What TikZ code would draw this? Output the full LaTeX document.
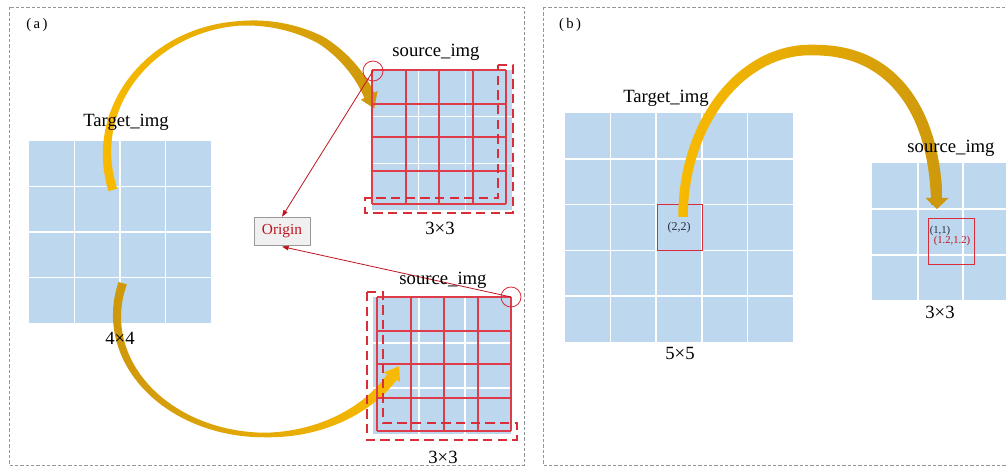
\documentclass[tikz,border=0pt]{standalone}
\usepackage{fontspec}
\setmainfont{Liberation Serif}
\usetikzlibrary{arrows.meta,calc}
\definecolor{cellblue}{RGB}{189,215,238}
\definecolor{goldA}{RGB}{248,186,0}
\definecolor{goldB}{RGB}{206,152,12}
\definecolor{redline}{RGB}{218,45,58}
\definecolor{gridred}{RGB}{222,60,72}
\definecolor{darkred}{RGB}{190,20,30}
\definecolor{panelgray}{RGB}{150,150,150}
\definecolor{inktext}{RGB}{40,45,60}
\begin{document}
\begin{tikzpicture}[x=0.75pt,y=-0.75pt,
  declare function={
    wA(\t)=4.5+0.045*max(0,265-\t)+0.11*max(0,\t-265);
    sA(\t)=1-0.00173*max(0,\t-300);
    wB(\t)=4.5+0.04*max(0,\t-90)+0.11*max(0,90-\t);
    wC(\t)=9.5+0.012*(\t-180);
  },
  panel/.style={draw=panelgray, line width=0.6pt, dash pattern=on 2.5pt off 1.5pt},
  lbl/.style={font=\fontsize{14}{16}\selectfont, inner sep=0pt},
  small/.style={font=\fontsize{8}{9}\selectfont, inner sep=0pt},
  gridw/.style={white, line width=1.1pt},
  redgrid/.style={draw=gridred, line width=0.9pt},
  redL/.style={draw=redline, line width=1.6pt, dash pattern=on 7pt off 4pt},
  redring/.style={circle, draw=redline, line width=0.6pt, minimum size=15pt, inner sep=0pt},
  redsq/.style={draw=redline, line width=0.6pt},
  redarrow/.style={draw=darkred, line width=0.6pt, -{Triangle[length=5pt,width=3.5pt]}},
  bandLR/.style={left color=goldA, right color=goldB},
  bandRL/.style={left color=goldB, right color=goldA},
]
\useasboundingbox (0,0) rectangle (1006,470);

% panels
\draw[panel] (9,7) rectangle (524,465);
\draw[panel] (543,7) rectangle (1012,465);

% ===== panel (a) =====
\fill[cellblue] (29,141) rectangle (211,323);
\foreach \i in {1,2,3} {
  \draw[gridw] ({29+\i*45.5},141) -- ({29+\i*45.5},323);
  \draw[gridw] (29,{141+\i*45.5}) -- (211,{141+\i*45.5});
}
\fill[cellblue] (372,70) rectangle (512,210);
\foreach \v in {418.7,465.3} \draw[gridw] (\v,70) -- (\v,210);
\foreach \v in {116.7,163.3} \draw[gridw] (372,\v) -- (512,\v);
\fill[cellblue] (373,297) rectangle (511,434);
\foreach \v in {419,465} \draw[gridw] (\v,297) -- (\v,434);
\foreach \v in {343,388} \draw[gridw] (373,\v) -- (511,\v);

% top gold arc
\shade[bandLR] plot[variable=\t, domain=163.5:332, samples=90]
   ({250+(143+0.5*wA(\t))*sA(\t)*cos(\t)}, {153+(130+0.5*wA(\t))*sA(\t)*sin(\t)})
 -- plot[variable=\t, domain=332:163.5, samples=90]
   ({250+(143-0.5*wA(\t))*sA(\t)*cos(\t)}, {153+(130-0.5*wA(\t))*sA(\t)*sin(\t)}) -- cycle;
\fill[goldB] ({250+(143+10)*sA(332)*cos(332)}, {153+(130+10)*sA(332)*sin(332)})
 -- ({250+(143-10)*sA(332)*cos(332)}, {153+(130-10)*sA(332)*sin(332)})
 -- ({250+143*sA(338.5)*cos(338.5)}, {153+130*sA(338.5)*sin(338.5)}) -- cycle;

% bottom gold arc
\shade[bandRL] plot[variable=\t, domain=196:31, samples=90]
   ({265+(148+0.5*wB(\t))*cos(\t)}, {316+(119+0.5*wB(\t))*sin(\t)})
 -- plot[variable=\t, domain=31:196, samples=90]
   ({265+(148-0.5*wB(\t))*cos(\t)}, {316+(119-0.5*wB(\t))*sin(\t)}) -- cycle;
\fill[goldA] ({265+(148+9.5)*cos(31)}, {316+(119+9.5)*sin(31)})
 -- ({265+(148-9.5)*cos(31)}, {316+(119-9.5)*sin(31)})
 -- ({265+148*cos(25)}, {316+119*sin(25)}) -- cycle;

% red grids (snapped to whole pixels)
\foreach \v in {372,406,439,473,506} \draw[redgrid] (\v,70) -- (\v,204);
\foreach \v in {70,104,137,171,204} \draw[redgrid] (372,\v) -- (506,\v);
\foreach \v in {377,411,444,478,511} \draw[redgrid] (\v,297) -- (\v,431);
\foreach \v in {297,331,364,398,431} \draw[redgrid] (377,\v) -- (511,\v);
\draw[redL] (498,65) -- (513,65) -- (513,213) -- (365,213) -- (365,198) -- (498,198) -- cycle;
\draw[redL] (367,292) -- (383,292) -- (383,423) -- (517,423) -- (517,440) -- (367,440) -- cycle;

\node[redring] (c1) at (373,71) {};
\node[redring] (c2) at (511,297) {};
\node[draw=gray!80, fill=gray!12, minimum width=42pt, minimum height=21pt, inner sep=0pt,
      text=darkred, font=\fontsize{11.5}{13}\selectfont] (origin) at (282,231) {Origin};
\draw[redarrow] (c1.center) -- (origin.north);
\draw[redarrow] (c2.center) -- ([yshift=-1pt]origin.south);

\node[font=\fontsize{11}{12}\selectfont, inner sep=0pt] (la) at (37,25) {(\,a\,)};
\node[lbl] (ta) at (126,122) {Target\_img};
\node[lbl] (ta2) at (120,338) {4×4};
\node[lbl] (sa) at (436,52) {source\_img};
\node[lbl] (sa2) at (440,228) {3×3};
\node[lbl] (sb) at (443,280) {source\_img};
\node[lbl] (sb2) at (443,457) {3×3};

% ===== panel (b) =====
\fill[cellblue] (565,113) rectangle (793,342);
\foreach \i in {1,...,4} {
  \draw[gridw] ({565+\i*45.6},113) -- ({565+\i*45.6},342);
  \draw[gridw] (565,{113+\i*45.8}) -- (793,{113+\i*45.8});
}
\draw[redsq] (657,204) rectangle (702,250);
\fill[cellblue] (872,163) rectangle (1009,300);
\foreach \v in {918,963} \draw[gridw] (\v,163) -- (\v,300);
\foreach \v in {209,255} \draw[gridw] (872,\v) -- (1009,\v);
\draw[redsq] (928,218) rectangle (974,264);

\shade[bandLR] plot[variable=\t, domain=180:270, samples=50]
   ({810+(127+0.5*wC(\t))*cos(\t)}, {217+(167+0.5*wC(\t))*sin(\t)})
 -- plot[variable=\t, domain=270:357.3, samples=60]
   ({810+(127+0.5*wC(\t))*pow(max(cos(\t),0.00001),0.85)}, {217-(167+0.5*wC(\t))*pow(max(-sin(\t),0.00001),0.85)})
 -- plot[variable=\t, domain=357.3:270, samples=60]
   ({810+(127-0.5*wC(\t))*pow(max(cos(\t),0.00001),0.85)}, {217-(167-0.5*wC(\t))*pow(max(-sin(\t),0.00001),0.85)})
 -- plot[variable=\t, domain=270:180, samples=50]
   ({810+(127-0.5*wC(\t))*cos(\t)}, {217+(167-0.5*wC(\t))*sin(\t)}) -- cycle;
\fill[goldB] (925.5,198) -- (948.5,198) -- (937,209) -- cycle;

\node[small, font=\fontsize{9}{10}\selectfont, text=inktext] (p22) at (679,228) {(2,2)};
\node[small, text=inktext] (p11) at (940,231) {(1,1)};
\node[small, text=darkred] (p12) at (952,241) {(1.2,1.2)};

\node[font=\fontsize{11}{12}\selectfont, inner sep=0pt] (lb) at (570,25) {(\,b\,)};
\node[lbl] (tb) at (666,98) {Target\_img};
\node[lbl] (tb2) at (680,353) {5×5};
\node[lbl] (sc) at (951,148) {source\_img};
\node[lbl] (sc2) at (940,312) {3×3};
\end{tikzpicture}
\end{document}
